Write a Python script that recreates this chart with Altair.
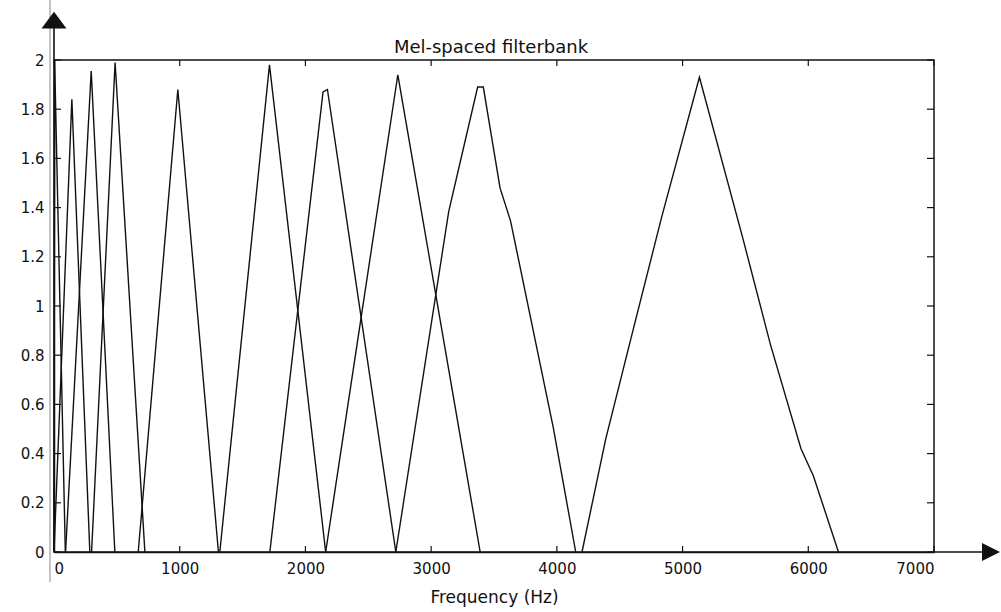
import altair as alt
import pandas as pd

# ---- data (frequency in Hz, amplitude) ----
filter_freqs = [
    [0, 5, 90],
    [0, 142, 285],
    [92, 296, 484],
    [299, 486, 723],
    [670, 985, 1308],
    [1319, 1714, 2161],
    [1717, 2140, 2175, 2719],
    [2161, 2735, 3390],
    [2719, 3140, 3370, 3415, 3548, 3632, 3972, 4150],
    [4200, 4389, 4610, 4833, 5134, 5477, 5699, 5942, 6040, 6240],
]
filter_vals = [
    [0, 2.0, 0],
    [0, 1.84, 0],
    [0, 1.955, 0],
    [0, 1.99, 0],
    [0, 1.88, 0],
    [0, 1.98, 0],
    [0, 1.87, 1.88, 0],
    [0, 1.94, 0],
    [0, 1.385, 1.89, 1.89, 1.48, 1.345, 0.505, 0],
    [0, 0.46, 0.91, 1.36, 1.93, 1.28, 0.843, 0.42, 0.31, 0],
]
x_ticks = [0, 1000, 2000, 3000, 4000, 5000, 6000, 7000]
y_ticks = [0, 0.2, 0.4, 0.6, 0.8, 1, 1.2, 1.4, 1.6, 1.8, 2]
title_text = "Mel-spaced filterbank"
x_title = "Frequency (Hz)"

rows = []
for k, (fs, vs) in enumerate(zip(filter_freqs, filter_vals)):
    for i, (f, v) in enumerate(zip(fs, vs)):
        rows.append({"filt": k, "order": i, "freq": f, "amp": v})
df = pd.DataFrame(rows)
xt = pd.DataFrame({"t": x_ticks})
yt = pd.DataFrame({"t": y_ticks})

W, H = 880, 492
FONT = "DejaVu Sans"
INK = "#111111"

xscale = alt.Scale(domain=[0, 7000], nice=False, zero=False)
yscale = alt.Scale(domain=[0, 2], nice=False, zero=False)

lines = alt.Chart(df).mark_line(color=INK, strokeWidth=1.4).encode(
    x=alt.X("freq:Q", scale=xscale,
            axis=alt.Axis(values=x_ticks, format="d", title=x_title,
                          ticks=False, grid=False, labelPadding=9,
                          titlePadding=13)),
    y=alt.Y("amp:Q", scale=yscale,
            axis=alt.Axis(values=y_ticks, format="~g", title=None,
                          ticks=False, grid=False, labelPadding=10)),
    detail="filt:N",
    order="order:Q",
)

# inward ticks (MATLAB style box ticks)
tl = alt.Chart(yt).mark_rule(color=INK, strokeWidth=1.2).encode(
    y=alt.Y("t:Q", scale=yscale), x=alt.value(0), x2=alt.value(7))
tr = alt.Chart(yt).mark_rule(color=INK, strokeWidth=1.2).encode(
    y=alt.Y("t:Q", scale=yscale), x=alt.value(W - 7), x2=alt.value(W))
tb = alt.Chart(xt).mark_rule(color=INK, strokeWidth=1.2).encode(
    x=alt.X("t:Q", scale=xscale), y=alt.value(H), y2=alt.value(H - 6))
tt = alt.Chart(xt).mark_rule(color=INK, strokeWidth=1.2).encode(
    x=alt.X("t:Q", scale=xscale), y=alt.value(0), y2=alt.value(6))

# axis arrow decorations
yline = alt.Chart().mark_rule(color=INK, strokeWidth=1.6).encode(
    x=alt.value(0), y=alt.value(-34), y2=alt.value(0))
yhead = alt.Chart().mark_point(
    shape="M -1 0.67 L 0 -0.67 L 1 0.67 Z", filled=True, color=INK,
    opacity=1, size=625).encode(x=alt.value(0), y=alt.value(-40))
xline = alt.Chart().mark_rule(color=INK, strokeWidth=1.6).encode(
    x=alt.value(W), x2=alt.value(W + 50), y=alt.value(H))
xhead = alt.Chart().mark_point(
    shape="M -1 -1 L 1 0 L -1 1 Z", filled=True, color=INK,
    opacity=1, size=324).encode(x=alt.value(W + 57), y=alt.value(H))
scan = alt.Chart().mark_rule(color="#b0b0b0", strokeWidth=1.5).encode(
    x=alt.value(-4), y=alt.value(-60), y2=alt.value(H + 30))

# chart title as a text mark placed just above the plot frame
title = alt.Chart().mark_text(
    text=title_text, font=FONT, fontSize=18, color=INK,
    align="center", baseline="middle",
).encode(x=alt.value(437), y=alt.value(-12))

chart = alt.layer(
    scan, lines, tl, tr, tb, tt, yline, yhead, xline, xhead, title
).properties(
    width=W, height=H,
    autosize=alt.AutoSizeParams(type="none"),
    padding={"left": 54, "top": 60, "right": 67, "bottom": 60},
    background="white",
).configure_view(
    stroke=INK, strokeWidth=1.5
).configure_axis(
    domainColor=INK, domainWidth=1.5, labelColor=INK, titleColor=INK,
    labelFont=FONT, titleFont=FONT, labelFontSize=15, titleFontSize=17,
    titleFontWeight="normal",
)

chart.save("out.html", embed_options={"renderer": "svg", "actions": False})
